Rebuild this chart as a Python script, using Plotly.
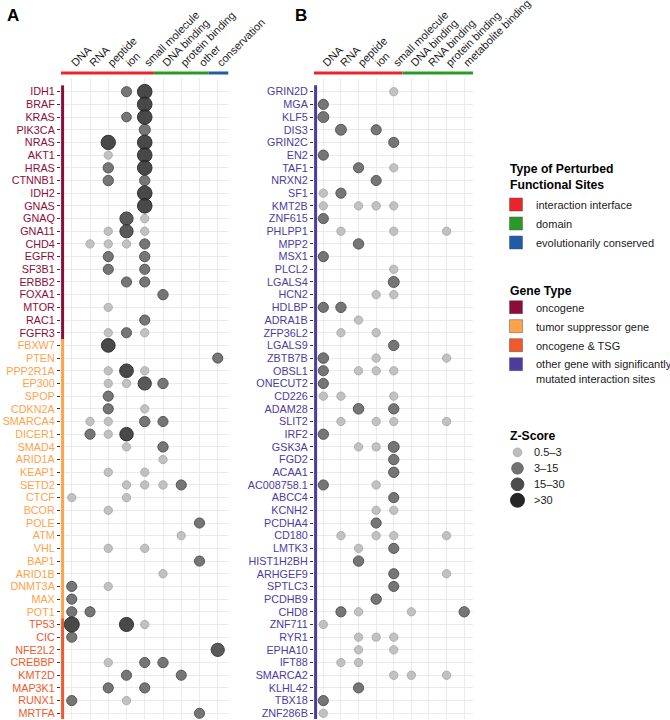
import plotly.graph_objects as go
import math

W, H = 670, 720

# ---------------- data ----------------
sites_A = ["DNA", "RNA", "peptide", "ion", "small molecule", "DNA binding",
           "protein binding", "other", "conservation"]
site_type_A = ["interaction interface"] * 5 + ["domain"] * 3 + ["evolutionarily conserved"]

sites_B = ["DNA", "RNA", "peptide", "ion", "small molecule", "DNA binding",
           "RNA binding", "protein binding", "metabolite binding"]
site_type_B = ["interaction interface"] * 5 + ["domain"] * 4

genes_A = ["IDH1", "BRAF", "KRAS", "PIK3CA", "NRAS", "AKT1", "HRAS", "CTNNB1", "IDH2", "GNAS",
           "GNAQ", "GNA11", "CHD4", "EGFR", "SF3B1", "ERBB2", "FOXA1", "MTOR", "RAC1", "FGFR3",
           "FBXW7", "PTEN", "PPP2R1A", "EP300", "SPOP", "CDKN2A", "SMARCA4", "DICER1", "SMAD4", "ARID1A",
           "KEAP1", "SETD2", "CTCF", "BCOR", "POLE", "ATM", "VHL", "BAP1", "ARID1B", "DNMT3A",
           "MAX", "POT1", "TP53", "CIC", "NFE2L2", "CREBBP", "KMT2D", "MAP3K1", "RUNX1", "MRTFA"]
gene_type_A = (["oncogene"] * 20 + ["tumor suppressor gene"] * 22 + ["oncogene & TSG"] * 8)

genes_B = ["GRIN2D", "MGA", "KLF5", "DIS3", "GRIN2C", "EN2", "TAF1", "NRXN2", "SF1", "KMT2B",
           "ZNF615", "PHLPP1", "MPP2", "MSX1", "PLCL2", "LGALS4", "HCN2", "HDLBP", "ADRA1B", "ZFP36L2",
           "LGALS9", "ZBTB7B", "OBSL1", "ONECUT2", "CD226", "ADAM28", "SLIT2", "IRF2", "GSK3A", "FGD2",
           "ACAA1", "AC008758.1", "ABCC4", "KCNH2", "PCDHA4", "CD180", "LMTK3", "HIST1H2BH", "ARHGEF9", "SPTLC3",
           "PCDHB9", "CHD8", "ZNF711", "RYR1", "EPHA10", "IFT88", "SMARCA2", "KLHL42", "TBX18", "ZNF286B"]
gene_type_B = ["other gene with significantly mutated interaction sites"] * 50

# Z-scores (0 = no perturbed site); columns follow sites_A / sites_B
z_A = [
    [0, 0, 0, 8, 40, 0, 0, 0, 0],    # IDH1
    [0, 0, 0, 0, 40, 0, 0, 0, 0],    # BRAF
    [0, 0, 0, 6, 40, 0, 0, 0, 0],    # KRAS
    [0, 0, 0, 0, 13, 0, 0, 0, 0],    # PIK3CA
    [0, 0, 38, 0, 40, 0, 0, 0, 0],   # NRAS
    [0, 0, 2, 0, 40, 0, 0, 0, 0],    # AKT1
    [0, 0, 9, 0, 40, 0, 0, 0, 0],    # HRAS
    [0, 0, 9, 0, 9, 0, 0, 0, 0],     # CTNNB1
    [0, 0, 0, 0, 40, 0, 0, 0, 0],    # IDH2
    [0, 0, 0, 0, 40, 0, 0, 0, 0],    # GNAS
    [0, 0, 0, 28, 2, 0, 0, 0, 0],    # GNAQ
    [0, 0, 2, 28, 2, 0, 0, 0, 0],    # GNA11
    [0, 2, 2, 2, 8, 0, 0, 0, 0],     # CHD4
    [0, 0, 8, 0, 9, 0, 0, 0, 0],     # EGFR
    [0, 0, 8, 0, 8, 0, 0, 0, 0],     # SF3B1
    [0, 0, 0, 8, 8, 0, 0, 0, 0],     # ERBB2
    [0, 0, 0, 0, 0, 9, 0, 0, 0],     # FOXA1
    [0, 0, 2, 0, 0, 0, 0, 0, 0],     # MTOR
    [0, 0, 0, 0, 8, 0, 0, 0, 0],     # RAC1
    [0, 0, 2, 8, 2, 0, 0, 0, 0],     # FGFR3
    [0, 0, 32, 0, 0, 0, 0, 0, 0],    # FBXW7
    [0, 0, 0, 0, 0, 0, 0, 0, 8],     # PTEN
    [0, 0, 2, 32, 2, 0, 0, 0, 0],    # PPP2R1A
    [0, 0, 2, 2, 28, 9, 0, 0, 0],    # EP300
    [0, 0, 8, 0, 0, 0, 0, 0, 0],     # SPOP
    [0, 0, 8, 0, 2, 0, 0, 0, 0],     # CDKN2A
    [0, 2, 2, 0, 9, 8, 0, 0, 0],     # SMARCA4
    [0, 8, 2, 30, 0, 0, 0, 0, 0],    # DICER1
    [0, 0, 0, 2, 0, 9, 0, 0, 0],     # SMAD4
    [0, 0, 0, 0, 0, 2, 0, 0, 0],     # ARID1A
    [0, 0, 2, 0, 2, 0, 0, 0, 0],     # KEAP1
    [0, 0, 0, 2, 2, 2, 8, 0, 0],     # SETD2
    [2, 0, 0, 2, 0, 0, 0, 0, 0],     # CTCF
    [0, 0, 2, 0, 0, 0, 0, 0, 0],     # BCOR
    [0, 0, 0, 0, 0, 0, 0, 8, 0],     # POLE
    [0, 0, 0, 0, 0, 0, 2, 0, 0],     # ATM
    [0, 0, 2, 0, 2, 0, 0, 0, 0],     # VHL
    [0, 0, 0, 0, 0, 0, 0, 8, 0],     # BAP1
    [0, 0, 0, 0, 0, 2, 0, 0, 0],     # ARID1B
    [8, 0, 2, 0, 0, 0, 0, 0, 0],     # DNMT3A
    [8, 0, 0, 0, 0, 0, 0, 0, 0],     # MAX
    [8, 8, 0, 0, 0, 0, 0, 0, 0],     # POT1
    [45, 0, 0, 35, 2, 0, 0, 0, 0],   # TP53
    [8, 0, 0, 0, 0, 0, 0, 0, 0],     # CIC
    [0, 0, 0, 0, 0, 0, 0, 0, 28],    # NFE2L2
    [0, 0, 2, 0, 8, 9, 0, 0, 0],     # CREBBP
    [0, 0, 0, 8, 0, 0, 8, 0, 0],     # KMT2D
    [0, 0, 8, 0, 8, 0, 0, 0, 0],     # MAP3K1
    [8, 0, 0, 2, 0, 0, 0, 0, 0],     # RUNX1
    [0, 0, 0, 0, 0, 0, 0, 8, 0],     # MRTFA
]

z_B = [
    [0, 0, 0, 0, 2, 0, 0, 0, 0],     # GRIN2D
    [8, 0, 0, 0, 0, 0, 0, 0, 0],     # MGA
    [12, 0, 0, 0, 0, 0, 0, 0, 0],    # KLF5
    [0, 12, 0, 8, 0, 0, 0, 0, 0],    # DIS3
    [0, 0, 0, 0, 8, 0, 0, 0, 0],     # GRIN2C
    [8, 0, 0, 0, 0, 0, 0, 0, 0],     # EN2
    [0, 0, 8, 0, 2, 0, 0, 0, 0],     # TAF1
    [0, 0, 0, 8, 0, 0, 0, 0, 0],     # NRXN2
    [2, 8, 0, 0, 0, 0, 0, 0, 0],     # SF1
    [2, 0, 2, 2.5, 2, 0, 0, 0, 0],   # KMT2B
    [8, 0, 0, 0, 0, 0, 0, 0, 0],     # ZNF615
    [0, 2, 0, 0, 2, 0, 0, 2, 0],     # PHLPP1
    [0, 0, 9, 0, 0, 0, 0, 0, 0],     # MPP2
    [8, 0, 0, 0, 0, 0, 0, 0, 0],     # MSX1
    [0, 0, 0, 0, 2, 0, 0, 0, 0],     # PLCL2
    [0, 0, 0, 0, 12, 0, 0, 0, 0],    # LGALS4
    [0, 0, 0, 2, 2, 0, 0, 0, 0],     # HCN2
    [8, 9, 0, 0, 0, 0, 0, 0, 0],     # HDLBP
    [0, 0, 2, 0, 0, 0, 0, 0, 0],     # ADRA1B
    [0, 2, 0, 2, 0, 0, 0, 0, 0],     # ZFP36L2
    [0, 0, 0, 0, 9, 0, 0, 0, 0],     # LGALS9
    [10, 0, 0, 2, 0, 0, 0, 2, 0],    # ZBTB7B
    [8, 0, 2, 2, 2, 0, 0, 0, 0],     # OBSL1
    [8, 0, 0, 0, 0, 0, 0, 0, 0],     # ONECUT2
    [2, 2, 0, 0, 2, 0, 0, 0, 0],     # CD226
    [0, 0, 10, 0, 9, 0, 0, 0, 0],    # ADAM28
    [0, 2, 0, 2, 2, 0, 0, 2, 0],     # SLIT2
    [9, 0, 0, 0, 0, 0, 0, 0, 0],     # IRF2
    [0, 0, 2, 1.5, 12, 0, 0, 0, 0],  # GSK3A
    [0, 0, 0, 0, 9, 0, 0, 0, 0],     # FGD2
    [0, 0, 0, 0, 9, 0, 0, 0, 0],     # ACAA1
    [8, 0, 0, 2, 0, 0, 0, 0, 0],     # AC008758.1
    [0, 0, 0, 0, 8, 0, 0, 0, 0],     # ABCC4
    [0, 0, 0, 2, 2, 0, 0, 0, 0],     # KCNH2
    [0, 0, 0, 8, 0, 0, 0, 0, 0],     # PCDHA4
    [0, 2, 0, 2, 2, 0, 0, 2, 0],     # CD180
    [0, 0, 2, 0, 8, 0, 0, 0, 0],     # LMTK3
    [0, 0, 9, 0, 0, 0, 0, 0, 0],     # HIST1H2BH
    [0, 0, 0, 0, 8, 0, 0, 2, 0],     # ARHGEF9
    [0, 0, 0, 0, 8, 0, 0, 0, 0],     # SPTLC3
    [0, 0, 0, 9, 0, 0, 0, 0, 0],     # PCDHB9
    [0, 8, 2, 0, 0, 2, 0, 0, 9],     # CHD8
    [2, 0, 0, 0, 0, 0, 0, 0, 0],     # ZNF711
    [0, 0, 2, 1.5, 2, 0, 0, 0, 0],   # RYR1
    [0, 0, 2, 0, 2, 0, 0, 0, 0],     # EPHA10
    [0, 2, 2, 0, 0, 0, 0, 0, 0],     # IFT88
    [0, 0, 0, 0, 2, 2, 0, 2, 0],     # SMARCA2
    [0, 0, 8, 0, 0, 0, 0, 0, 0],     # KLHL42
    [8, 0, 0, 0, 0, 0, 0, 0, 0],     # TBX18
    [1.5, 0, 0, 0, 0, 0, 0, 0, 0],   # ZNF286B
]

z_bins = ["0.5\u20133", "3\u201315", "15\u201330", ">30"]
z_bin_edges = [0.5, 3, 15, 30]

site_legend = ["interaction interface", "domain", "evolutionarily conserved"]
gene_legend = ["oncogene", "tumor suppressor gene", "oncogene & TSG",
               "other gene with significantly mutated interaction sites"]
gene_legend_labels = ["oncogene", "tumor suppressor gene", "oncogene & TSG",
                      "other gene with significantly<br>mutated interaction sites"]

# ---------------- styles ----------------
FONT = "Liberation Sans, Arial, Helvetica, sans-serif"
site_colors = {"interaction interface": "#EE2229",
               "domain": "#2A9A26",
               "evolutionarily conserved": "#1F5BA6"}
gene_colors = {"oncogene": "#8E0C3A",
               "tumor suppressor gene": "#FFA24A",
               "oncogene & TSG": "#F2592A",
               "other gene with significantly mutated interaction sites": "#4E3B9E"}
bin_fill = ["#BDBDBD", "#6B6B6B", "#4C4C4C", "#3A3A3A"]
bin_line = ["#A9A9A9", "#474747", "#2E2E2E", "#1E1E1E"]
legend_fill = ["#BDBDBD", "#727272", "#4B4B4B", "#262626"]
legend_line = ["#A9A9A9", "#5A5A5A", "#3A3A3A", "#161616"]
legend_sizes = [8.7, 11.6, 12.8, 14]


def px(x):
    return x / W


def py(y):
    return 1 - y / H


def zbin(z):
    b = 0
    for i, e in enumerate(z_bin_edges):
        if z >= e:
            b = i
    return b


def zsize(z):
    return 6.5 + 1.27 * math.sqrt(z)


fig = go.Figure()

panels = [
    dict(genes=genes_A, types=gene_type_A, sites=sites_A, stypes=site_type_A, z=z_A,
         xa="x", ya="y", xdom=(61, 228.5), xr=(-0.59, 8.59), bar_x=62.6),
    dict(genes=genes_B, types=gene_type_B, sites=sites_B, stypes=site_type_B, z=z_B,
         xa="x2", ya="y2", xdom=(314, 473), xr=(-0.53, 8.5), bar_x=315.6),
]

YR = (49.45, -1.08)
shapes = []
for p in panels:
    for b in range(4):
        xs, ys, ss = [], [], []
        for gi, row in enumerate(p["z"]):
            for si, z in enumerate(row):
                if z > 0 and zbin(z) == b:
                    xs.append(si)
                    ys.append(gi)
                    ss.append(zsize(z))
        fig.add_trace(go.Scatter(
            x=xs, y=ys, mode="markers", xaxis=p["xa"], yaxis=p["ya"], showlegend=False,
            marker=dict(size=ss, color=bin_fill[b], opacity=0.92,
                        line=dict(color=bin_line[b], width=1)),
            hoverinfo="skip"))
    # top colored bar (site type) per column
    n = len(p["sites"])
    start = 0
    for i in range(1, n + 1):
        if i == n or p["stypes"][i] != p["stypes"][start]:
            x0 = p["xr"][0] if start == 0 else start - 0.5
            x1 = p["xr"][1] if i == n else i - 0.5
            shapes.append(dict(type="line", xref=p["xa"], yref="paper",
                               x0=x0, x1=x1, y0=py(73), y1=py(73),
                               line=dict(color=site_colors[p["stypes"][start]], width=3)))
            start = i
    # left colored bar (gene type) per row
    n = len(p["genes"])
    start = 0
    for i in range(1, n + 1):
        if i == n or p["types"][i] != p["types"][start]:
            y0 = start - 0.5
            y1 = YR[0] if i == n else i - 0.5
            shapes.append(dict(type="line", xref="paper", yref=p["ya"],
                               x0=px(p["bar_x"]), x1=px(p["bar_x"]), y0=y0, y1=y1,
                               line=dict(color=gene_colors[p["types"][start]], width=3)))
            start = i

# legends: site type and gene type (plotly legends, titles as annotations)
for st in site_legend:
    fig.add_trace(go.Scatter(x=[None], y=[None], mode="markers", name=st, legend="legend",
                             marker=dict(symbol="square", size=13, color=site_colors[st],
                                         line=dict(color="#555555", width=0.5))))
for gt, nm in zip(gene_legend, gene_legend_labels):
    fig.add_trace(go.Scatter(x=[None], y=[None], mode="markers", name=nm, legend="legend2",
                             marker=dict(symbol="square", size=13, color=gene_colors[gt],
                                         line=dict(color="#555555", width=0.5))))

# Z-score key (drawn on its own small axis so entries sit 16 px apart)
fig.add_trace(go.Scatter(
    x=[0] * len(z_bins), y=list(range(len(z_bins))), mode="markers", xaxis="x3", yaxis="y3",
    showlegend=False, hoverinfo="skip",
    marker=dict(size=legend_sizes, color=legend_fill, opacity=1,
                line=dict(color=legend_line, width=0.8))))


def tick_text(genes, types):
    return ['<span style="color:%s">%s</span>' % (gene_colors[t], g) for g, t in zip(genes, types)]


common_x = dict(side="top", tickangle=-45, showgrid=True, gridcolor="#EBEBEB", gridwidth=1,
                zeroline=False, showline=False, ticks="", tickfont=dict(size=11, color="#1A1A1A"),
                ticklabelstandoff=6, fixedrange=True, automargin=False, ticklabeloverflow="allow")
common_y = dict(showgrid=True, gridcolor="#EBEBEB", gridwidth=1, zeroline=False, showline=False,
                ticks="outside", ticklen=3, tickcolor="#333333", tickwidth=1,
                tickfont=dict(size=10.8), range=list(YR), fixedrange=True, automargin=False,
                ticklabeloverflow="allow")

annotations = [
    dict(text="<b>A</b>", x=px(5), y=py(4), xref="paper", yref="paper",
         xanchor="left", yanchor="top", showarrow=False, font=dict(size=17, color="black")),
    dict(text="<b>B</b>", x=px(293), y=py(4), xref="paper", yref="paper",
         xanchor="left", yanchor="top", showarrow=False, font=dict(size=17, color="black")),
    dict(text="<b>Type of Perturbed<br>Functional Sites</b>", x=px(508), y=py(160), xref="paper",
         yref="paper", xanchor="left", yanchor="top", align="left", showarrow=False,
         font=dict(size=12.2, color="black")),
    dict(text="<b>Gene Type</b>", x=px(508), y=py(282), xref="paper", yref="paper",
         xanchor="left", yanchor="top", align="left", showarrow=False,
         font=dict(size=12.2, color="black")),
    dict(text="<b>Z-Score</b>", x=px(508), y=py(427), xref="paper", yref="paper",
         xanchor="left", yanchor="top", align="left", showarrow=False,
         font=dict(size=12.2, color="black")),
]
for i, lab in enumerate(z_bins):
    annotations.append(dict(text=lab, x=px(532), y=i, xref="paper", yref="y3", xanchor="left",
                            yanchor="middle", showarrow=False, font=dict(size=11, color="#1A1A1A")))

pA, pB = panels
fig.update_layout(
    width=W, height=H, margin=dict(l=0, r=0, t=0, b=0, autoexpand=False),
    paper_bgcolor="white", plot_bgcolor="white",
    font=dict(family=FONT, color="#1A1A1A"),
    xaxis=dict(domain=[px(pA["xdom"][0]), px(pA["xdom"][1])], range=list(pA["xr"]),
               tickvals=list(range(9)), ticktext=sites_A, anchor="y", **common_x),
    yaxis=dict(domain=[py(719), py(78)], tickvals=list(range(50)),
               ticktext=tick_text(genes_A, gene_type_A), anchor="x", **common_y),
    xaxis2=dict(domain=[px(pB["xdom"][0]), px(pB["xdom"][1])], range=list(pB["xr"]),
                tickvals=list(range(9)), ticktext=sites_B, anchor="y2", **common_x),
    yaxis2=dict(domain=[py(719), py(78)], tickvals=list(range(50)),
                ticktext=tick_text(genes_B, gene_type_B), anchor="x2", **common_y),
    xaxis3=dict(domain=[px(505), px(530)], range=[-1, 1], visible=False, fixedrange=True),
    yaxis3=dict(domain=[py(508.3), py(444.3)], range=[3.5, -0.5], visible=False, fixedrange=True,
                anchor="x3"),
    shapes=shapes,
    annotations=annotations,
    legend=dict(x=px(496), y=py(190), xanchor="left", yanchor="top",
                font=dict(size=11), tracegroupgap=0, bgcolor="rgba(0,0,0,0)"),
    legend2=dict(x=px(496), y=py(293.5), xanchor="left", yanchor="top", valign="top",
                 font=dict(size=11), tracegroupgap=0, bgcolor="rgba(0,0,0,0)"),
)

fig.write_html("out.html", config={"displayModeBar": False},
               post_script="document.body.style.margin='0';document.body.style.overflow='hidden';")
